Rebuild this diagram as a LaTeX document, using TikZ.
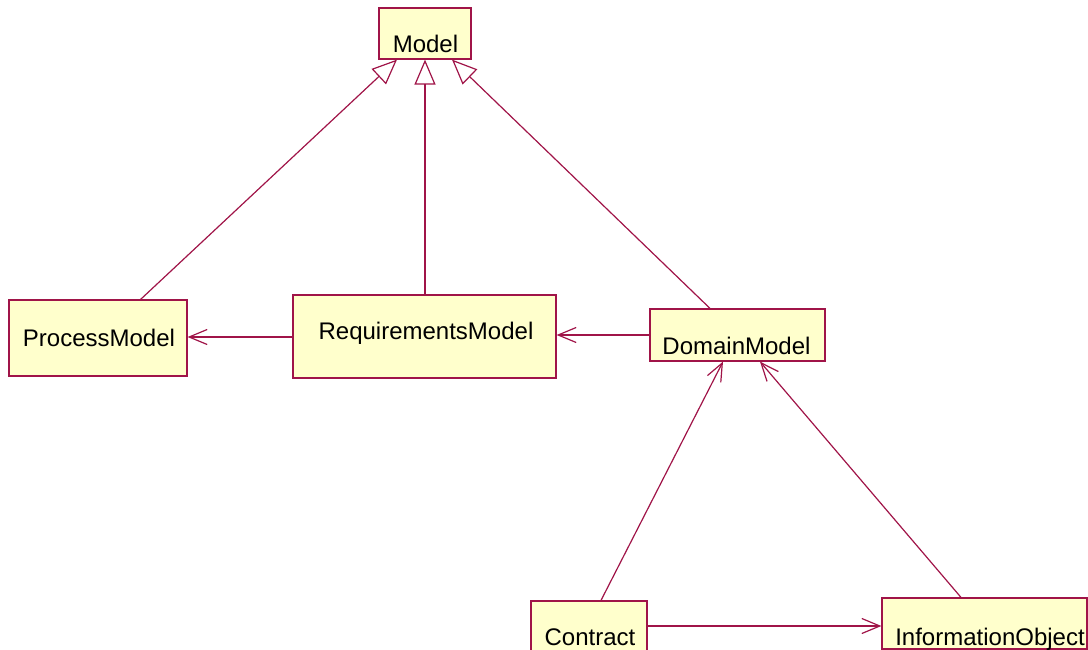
\documentclass[tikz,border=0pt]{standalone}
\usepackage{fontspec}
\setmainfont{Liberation Sans}
\usetikzlibrary{arrows.meta}
\definecolor{umlline}{RGB}{160,20,72}
\definecolor{umlfill}{RGB}{255,255,204}
\tikzset{
  classbox/.style={draw=umlline, fill=umlfill, line width=1.2pt, inner sep=0pt, anchor=center},
  classname/.style={anchor=base, inner sep=0pt, font=\fontsize{24}{28}\selectfont},
  conn/.style={draw=umlline, line width=1.2pt},
  inherit/.style={conn, -{Triangle[open, length=25pt, width=21pt, fill=white]}},
  assoc/.style={conn, -{Straight Barb[length=18pt, width=15pt]}},
}
\begin{document}
\begin{tikzpicture}[x=1pt, y=-1pt]
\useasboundingbox (0,0) rectangle (1088,650);

% class boxes
\node[classbox, minimum width=92pt,  minimum height=51pt] (model) at (425,33.5) {};
\node[classbox, minimum width=178pt, minimum height=76pt] (proc)  at (98,338) {};
\node[classbox, minimum width=263pt, minimum height=83pt] (req)   at (424.5,336.5) {};
\node[classbox, minimum width=175pt, minimum height=52pt] (dom)   at (737.5,335) {};
\node[classbox, minimum width=116pt, minimum height=51pt] (con)   at (589,626.5) {};
\node[classbox, minimum width=205pt, minimum height=51pt] (info)  at (984.5,623.5) {};

% class names
\node[classname] (modelT) at (425.5,53)  {Model};
\node[classname] (procT)  at (99,346)    {ProcessModel};
\node[classname] (reqT)   at (426,339)   {RequirementsModel};
\node[classname] (domT)   at (736.5,354) {DomainModel};
\node[classname] (conT)   at (590,645)   {Contract};
\node[classname] (infoT)  at (990,645)   {InformationObject};

% generalizations
\draw[inherit] ([xshift=-47pt]proc.north east) -- ([xshift=-28pt]model.south);
\draw[inherit] ([xshift=0.5pt]req.north) -- (model.south);
\draw[inherit] ([xshift=-27.5pt]dom.north) -- ([xshift=27pt]model.south);

% associations
\draw[assoc] (req.west |- 0,337) -- (proc.east |- 0,337);
\draw[assoc] (dom.west |- 0,335) -- (req.east |- 0,335);
\draw[assoc] ([xshift=12pt]con.north) -- ([xshift=-14.5pt]dom.south);
\draw[assoc] ([xshift=-23.5pt]info.north) -- ([xshift=22.5pt]dom.south);
\draw[assoc] (con.east |- 0,626) -- (info.west |- 0,626);
\end{tikzpicture}
\end{document}
